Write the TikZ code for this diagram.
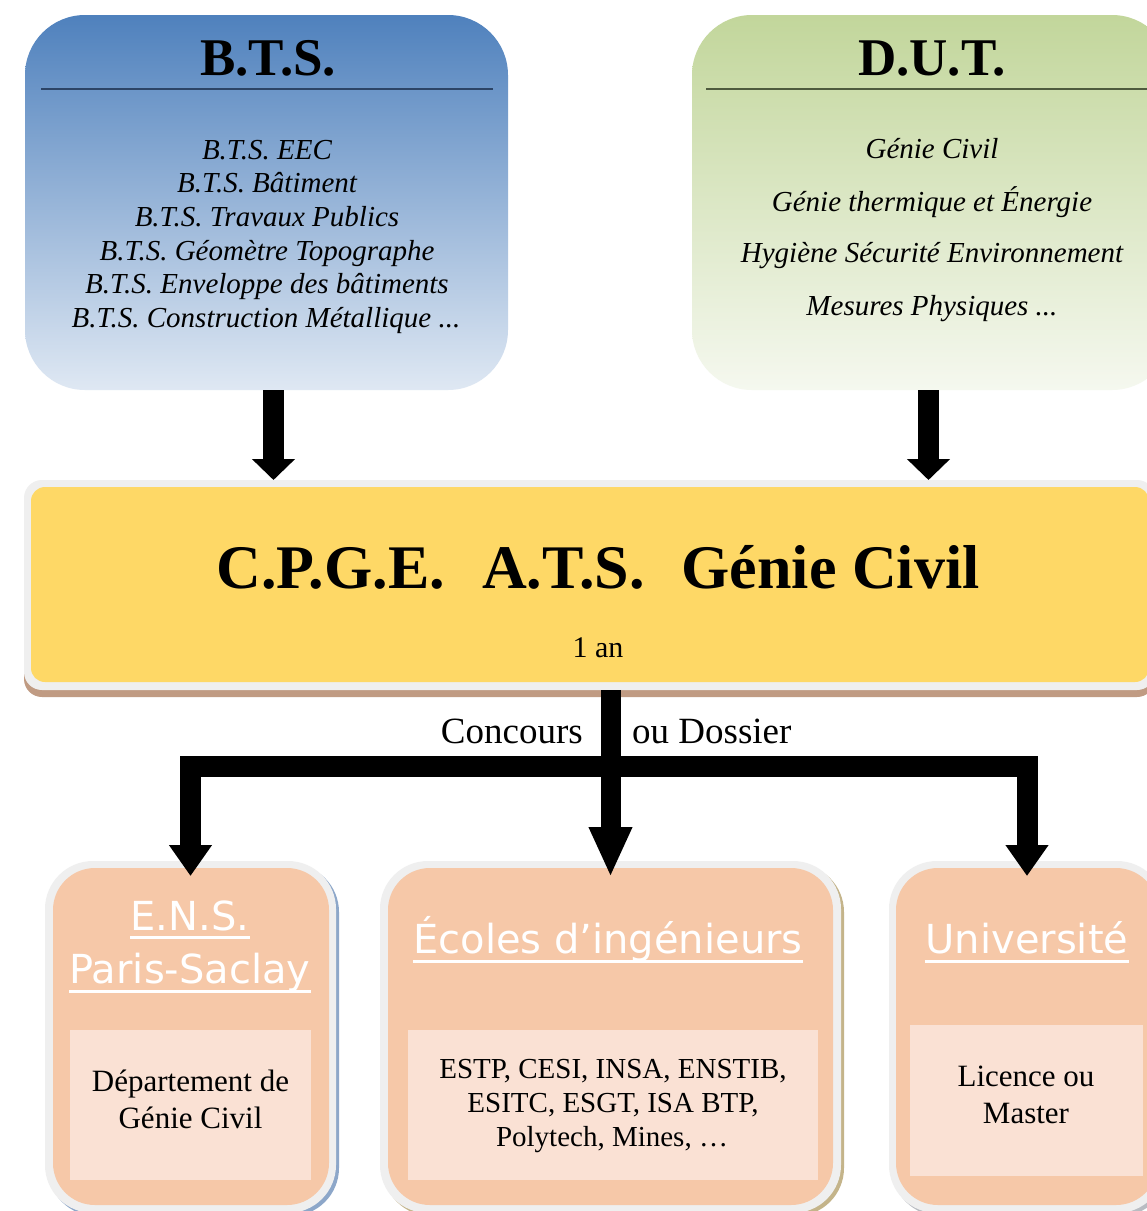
\documentclass[tikz,border=0pt]{standalone}
\usepackage{fontspec}
\setmainfont{Liberation Serif}
\newfontfamily\titlefont{DejaVu Sans}
\usetikzlibrary{arrows.meta}
\definecolor{btsTop}{HTML}{4F81BD}
\definecolor{btsBot}{HTML}{DFE8F3}
\definecolor{btsLine}{HTML}{2C4466}
\definecolor{dutTop}{HTML}{C2D69B}
\definecolor{dutBot}{HTML}{F5F8EF}
\definecolor{dutLine}{HTML}{4E5A3E}
\definecolor{cpgeYellow}{HTML}{FED866}
\definecolor{rimGray}{HTML}{EFEFEF}
\definecolor{cpgeShadow}{HTML}{C09B83}
\definecolor{peach}{HTML}{F6C8A8}
\definecolor{peachLight}{HTML}{FAE1D4}
\definecolor{ensShadow}{HTML}{8DA7C9}
\definecolor{ecoShadow}{HTML}{C4B48A}
\definecolor{uniShadow}{HTML}{B9BCC2}
\begin{document}
\begin{tikzpicture}[x=1pt,y=-1pt,
  shapebox/.style={inner sep=0pt, outer sep=0pt, draw=none},
  listfont/.style={font=\itshape\fontsize{29}{33}\selectfont, inner sep=0pt, anchor=base},
  plainfont/.style={font=\fontsize{#1}{#1}\selectfont, inner sep=0pt, anchor=base},
  schooltitle/.style={font=\titlefont\fontsize{40}{48}\selectfont, text=white, inner sep=0pt, anchor=base},
  uline/.style={draw=white, line width=3pt},
  toparrow/.style={line width=21pt, -{Triangle[width=42pt,length=21pt]}},
  midarrow/.style={line width=20pt, -{Triangle[width=40pt,length=50pt]}},
  sidearrow/.style={line width=21pt, miter limit=10, -{Triangle[width=41pt,length=31pt]}}]
\useasboundingbox (0,0) rectangle (1147,1211);
\clip (0,0) rectangle (1147,1211);
\fill[white] (0,0) rectangle (1147,1211);

% ---------- B.T.S. ----------
\node[shapebox, minimum width=483pt, minimum height=375pt, rounded corners=60pt,
      top color=btsTop, bottom color=btsBot] (bts) at (266.5,202.5) {};
\node[plainfont=53, font=\bfseries\fontsize{53}{60}\selectfont] (btstitle) at (268,75) {B.T.S.};
\draw[btsLine, line width=1.5pt] (41,89) -- (493,89);
\node[listfont] (bts1) at (267,159.5) {B.T.S. EEC};
\node[listfont] (bts2) at (267,192) {B.T.S. Bâtiment};
\node[listfont] (bts3) at (267,226) {B.T.S. Travaux Publics};
\node[listfont] (bts4) at (267,260) {B.T.S. Géomètre Topographe};
\node[listfont] (bts5) at (267,293.5) {B.T.S. Enveloppe des bâtiments};
\node[listfont] (bts6) at (266,327) {B.T.S. Construction Métallique ...};

% ---------- D.U.T. ----------
\node[shapebox, minimum width=480pt, minimum height=375pt, rounded corners=60pt,
      top color=dutTop, bottom color=dutBot] (dut) at (932,202.5) {};
\node[plainfont=53, font=\bfseries\fontsize{53}{60}\selectfont] (duttitle) at (932,75) {D.U.T.};
\draw[dutLine, line width=1.5pt] (706,89) -- (1160,89);
\node[listfont] (dut1) at (932,158.5) {Génie Civil};
\node[listfont] (dut2) at (932,211.5) {Génie thermique et Énergie};
\node[listfont] (dut3) at (932,262.5) {Hygiène Sécurité Environnement};
\node[listfont] (dut4) at (932,315) {Mesures Physiques ...};

% ---------- C.P.G.E. ----------
\node[shapebox, minimum width=1131pt, minimum height=211pt, rounded corners=18pt, fill=cpgeShadow] (cpgeshadow) at (589.5,591.5) {};
\node[shapebox, minimum width=1131pt, minimum height=210pt, rounded corners=18pt, fill=rimGray] (cpge) at (589.5,585) {};
\node[shapebox, minimum width=1118pt, minimum height=195pt, rounded corners=14pt, fill=cpgeYellow] (cpgein) at (590,584.5) {};
\node[inner sep=0pt, anchor=base, font=\bfseries\fontsize{62}{70}\selectfont] (cpgetitle) at (598,588)
  {C.P.G.E.\hspace{0.6em}A.T.S.\hspace{0.6em}Génie Civil};
\node[plainfont=30] (duree) at (598,657) {1 an};

% ---------- bottom boxes ----------
% E.N.S.
\node[shapebox, minimum width=291pt, minimum height=352pt, rounded corners=48pt, fill=ensShadow] (ensshadow) at (193.5,1040) {};
\node[shapebox, minimum width=291pt, minimum height=352pt, rounded corners=48pt, fill=rimGray] (ens) at (190.5,1037) {};
\node[shapebox, minimum width=276pt, minimum height=337pt, rounded corners=42pt, fill=peach] (ensin) at (191,1036.5) {};
\node[shapebox, minimum width=241pt, minimum height=150pt, fill=peachLight] (enslight) at (190.5,1105) {};
\node[schooltitle] (enst1) at (190,930) {E.N.S.};
\node[schooltitle] (enst2) at (190,983) {Paris-Saclay};
\draw[uline] ([yshift=-7pt]enst1.base west) -- ([yshift=-7pt]enst1.base east);
\draw[uline] ([yshift=-8pt]enst2.base west) -- ([yshift=-8pt]enst2.base east);
\node[plainfont=31] (ensa) at (190.5,1091.5) {Département de};
\node[plainfont=31] (ensb) at (190.5,1128.5) {Génie Civil};

% Ecoles
\node[shapebox, minimum width=461pt, minimum height=352pt, rounded corners=48pt, fill=ecoShadow] (ecoshadow) at (613.5,1040) {};
\node[shapebox, minimum width=461pt, minimum height=352pt, rounded corners=48pt, fill=rimGray] (ecoles) at (610.5,1037) {};
\node[shapebox, minimum width=445pt, minimum height=337pt, rounded corners=42pt, fill=peach] (ecolesin) at (610.5,1036.5) {};
\node[shapebox, minimum width=410pt, minimum height=150pt, fill=peachLight] (ecoleslight) at (613,1105) {};
\node[schooltitle] (ecot) at (608,953) {Écoles d’ingénieurs};
\draw[uline] ([yshift=-8pt]ecot.base west) -- ([yshift=-8pt]ecot.base east);
\node[plainfont=29] (ecoa) at (613,1078) {ESTP, CESI, INSA, ENSTIB,};
\node[plainfont=29] (ecob) at (613,1112) {ESITC, ESGT, ISA BTP,};
\node[plainfont=29] (ecoc) at (612,1146) {Polytech, Mines, …};

% Universite
\node[shapebox, minimum width=276pt, minimum height=352pt, rounded corners=48pt, fill=uniShadow] (unishadow) at (1030,1040) {};
\node[shapebox, minimum width=276pt, minimum height=352pt, rounded corners=48pt, fill=rimGray] (univ) at (1027,1037) {};
\node[shapebox, minimum width=262pt, minimum height=337pt, rounded corners=42pt, fill=peach] (univin) at (1027,1036.5) {};
\node[shapebox, minimum width=233pt, minimum height=151pt, fill=peachLight] (univlight) at (1026.5,1100.5) {};
\node[schooltitle] (unit) at (1027,953) {Université};
\draw[uline] ([yshift=-8pt]unit.base west) -- ([yshift=-8pt]unit.base east);
\node[plainfont=31] (unia) at (1026,1086) {Licence ou};
\node[plainfont=31] (unib) at (1026,1123.5) {Master};

% ---------- connectors ----------
\draw[toparrow] ([xshift=7pt]bts.south) -- ([xshift=7pt]bts.south |- cpge.north);
\draw[toparrow] ([xshift=-3.5pt]dut.south) -- ([xshift=-3.5pt]dut.south |- cpge.north);
\coordinate (split) at (610.5,766.5);
\draw[sidearrow] (split) -| ([yshift=-15pt]ens.north);
\draw[sidearrow] (split) -| ([yshift=-15pt]univ.north);
\draw[midarrow] (cpge.south -| ecoles.north) -- ([yshift=-16pt]ecoles.north);

\node[plainfont=37, anchor=base east] (concours) at (583,743) {Concours};
\node[plainfont=37, anchor=base west] (dossier) at (632,743) {ou Dossier};
\end{tikzpicture}
\end{document}
